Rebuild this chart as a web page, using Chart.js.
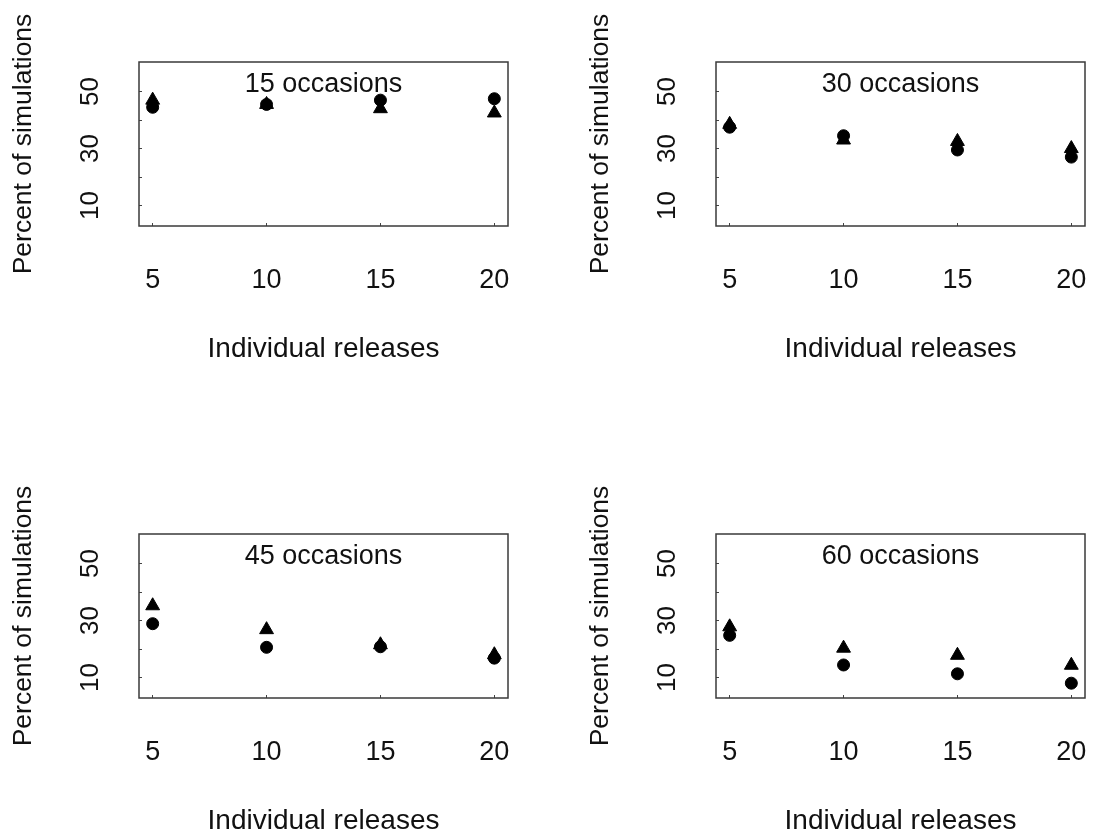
<!DOCTYPE html>
<html>
<head>
<meta charset="utf-8">
<script src="https://cdn.jsdelivr.net/npm/chart.js@4"></script>
<style>
html, body { margin: 0; padding: 0; background: #fff; overflow: hidden; }
.panel { position: absolute; width: 517px; height: 420px; }
</style>
</head>
<body>
<div class="panel" style="left:0;top:0"><canvas id="p15"></canvas></div>
<div class="panel" style="left:577px;top:0"><canvas id="p30"></canvas></div>
<div class="panel" style="left:0;top:472px"><canvas id="p45"></canvas></div>
<div class="panel" style="left:577px;top:472px"><canvas id="p60"></canvas></div>
<script>
const releases = [5, 10, 15, 20];
const occasions = [15, 30, 45, 60];
const yTicks = [10, 20, 30, 40, 50];
const yTickLabels = [10, 30, 50];

// filled circles
const circles15 = [44.5, 45.5, 47, 47.5];
const circles30 = [37.5, 34.5, 29.5, 27];
const circles45 = [28.9, 20.6, 20.8, 16.8];
const circles60 = [24.8, 14.4, 11.3, 8];

// filled triangles
const triangles15 = [47, 45.5, 44, 42.5];
const triangles30 = [38.5, 33, 32.5, 30];
const triangles45 = [35.2, 26.8, 21.5, 18];
const triangles60 = [27.8, 20.3, 17.8, 14.3];

const circleSets = [circles15, circles30, circles45, circles60];
const triangleSets = [triangles15, triangles30, triangles45, triangles60];

const FONT = '"Liberation Sans", Arial, Helvetica, sans-serif';
const INK = '#111';

// draws the box round the plot area
const frame = {
    id: 'frame',
    beforeDatasetsDraw(chart) {
        const { ctx, chartArea: a } = chart;
        ctx.save();
        ctx.strokeStyle = '#3a3a3a';
        ctx.lineWidth = 1.5;
        ctx.strokeRect(a.left, a.top, a.right - a.left, a.bottom - a.top);
        ctx.restore();
    }
};

// "NN occasions" inside the top of the box
const panelLabel = {
    id: 'panelLabel',
    afterDatasetsDraw(chart, args, opts) {
        const { ctx, chartArea: a } = chart;
        ctx.save();
        ctx.font = '27px ' + FONT;
        ctx.fillStyle = INK;
        ctx.textAlign = 'center';
        ctx.textBaseline = 'alphabetic';
        ctx.fillText(opts.text, (a.left + a.right) / 2, a.top + 30);
        ctx.restore();
    }
};

function toPoints(values) {
    return releases.map((x, i) => ({ x: x, y: values[i] }));
}

occasions.forEach((n, k) => {
    const ctx = document.getElementById('p' + n).getContext('2d');
    const rightCol = k % 2 === 1;

    new Chart(ctx, {
        type: 'scatter',
        data: {
            datasets: [{
                label: 'circles',
                data: toPoints(circleSets[k]),
                pointStyle: 'circle',
                pointRadius: 6,
                backgroundColor: '#000',
                borderColor: '#000',
                borderWidth: 1
            }, {
                label: 'triangles',
                data: toPoints(triangleSets[k]),
                pointStyle: 'triangle',
                pointRadius: 8,
                backgroundColor: '#000',
                borderColor: '#000',
                borderWidth: 1
            }]
        },
        options: {
            responsive: true,
            maintainAspectRatio: false,
            devicePixelRatio: 1,
            animation: false,
            events: [],
            layout: { padding: { left: 0, top: 62, right: rightCol ? 7 : 9, bottom: 54 } },
            plugins: {
                legend: { display: false },
                tooltip: { enabled: false },
                panelLabel: { text: n + ' occasions' }
            },
            scales: {
                x: {
                    type: 'linear',
                    min: 4.4,
                    max: 20.6,
                    afterBuildTicks: (scale) => { scale.ticks = releases.map(v => ({ value: v })); },
                    afterFit: (scale) => {
                        scale.height = 140;
                        scale.paddingLeft = 0;
                        scale.paddingRight = 0;
                    },
                    border: { display: false },
                    grid: { drawOnChartArea: false, drawTicks: true, tickLength: -3, color: '#444' },
                    ticks: {
                        autoSkip: false,
                        maxRotation: 0,
                        padding: 41,
                        color: INK,
                        font: { family: FONT, size: 27 }
                    },
                    title: {
                        display: true,
                        text: 'Individual releases',
                        color: INK,
                        font: { family: FONT, size: 28 },
                        padding: { top: 0, bottom: 0 }
                    }
                },
                y: {
                    type: 'linear',
                    min: 2.8,
                    max: 60.4,
                    afterBuildTicks: (scale) => { scale.ticks = yTicks.map(v => ({ value: v })); },
                    afterFit: (scale) => {
                        scale.width = 139;
                        scale.paddingTop = 0;
                        scale.paddingBottom = 0;
                    },
                    border: { display: false },
                    grid: { drawOnChartArea: false, drawTicks: true, tickLength: -3, color: '#444' },
                    ticks: {
                        autoSkip: false,
                        minRotation: 90,
                        maxRotation: 90,
                        crossAlign: 'center',
                        padding: 37,
                        color: INK,
                        font: { family: FONT, size: 26 },
                        callback: (v) => yTickLabels.includes(v) ? String(v) : ''
                    },
                    title: {
                        display: true,
                        text: 'Percent of simulations',
                        color: INK,
                        font: { family: FONT, size: 26.5 },
                        padding: { top: 8, bottom: 0 }
                    }
                }
            }
        },
        plugins: [frame, panelLabel]
    });
});
</script>
</body>
</html>
